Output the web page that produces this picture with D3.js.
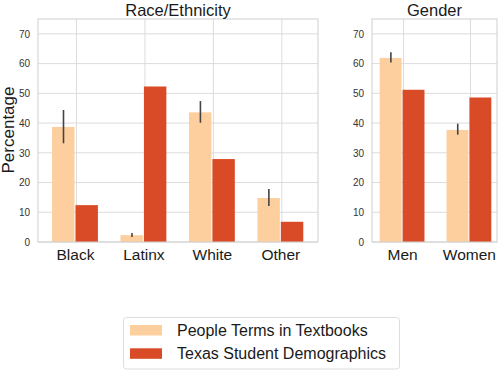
<!DOCTYPE html>
<html>
<head>
<meta charset="utf-8">
<script src="https://cdn.jsdelivr.net/npm/d3@7"></script>
<style>
  html, body { margin: 0; padding: 0; background: #fff; }
  svg { display: block; font-family: "Liberation Sans", Arial, sans-serif; }
</style>
</head>
<body>
<svg id="chart" width="500" height="372"></svg>
<script>
// ---- data ----
const raceCategories = ["Black", "Latinx", "White", "Other"];
const raceTextbook = [38.7, 2.3, 43.6, 14.8];
const raceTextbookLo = [33.2, 1.7, 40.1, 12.1];
const raceTextbookHi = [44.4, 3.0, 47.4, 17.8];
const raceTexas = [12.4, 52.3, 27.9, 6.8];

const genderCategories = ["Men", "Women"];
const genderTextbook = [61.9, 37.7];
const genderTextbookLo = [60.4, 36.1];
const genderTextbookHi = [63.8, 39.8];
const genderTexas = [51.2, 48.6];

const yTicks = [0, 10, 20, 30, 40, 50, 60, 70];
const seriesNames = ["People Terms in Textbooks", "Texas Student Demographics"];
const colors = ["#fdcf9f", "#d94b27"];

// ---- drawing ----
const svg = d3.select("#chart");
const y = d3.scaleLinear().domain([0, 75]).range([242, 19]);

function panel(opts) {
  const g = svg.append("g");
  const x = d3.scaleLinear().domain(opts.xdom).range([opts.x0, opts.x1]);
  const bw = x(0.335) - x(0);
  const idx = d3.range(opts.cats.length);

  // gridlines
  g.selectAll("line.hg").data(yTicks).join("line")
    .attr("x1", opts.x0).attr("x2", opts.x1)
    .attr("y1", d => y(d)).attr("y2", d => y(d))
    .attr("stroke", "#dcdcdc").attr("stroke-width", 1);
  g.selectAll("line.vg").data(idx).join("line")
    .attr("x1", d => x(d) + 1.5).attr("x2", d => x(d) + 1.5)
    .attr("y1", y(0)).attr("y2", y(75))
    .attr("stroke", "#dcdcdc").attr("stroke-width", 1);

  // bars
  g.selectAll("rect.a").data(idx).join("rect")
    .attr("x", d => x(d) - bw).attr("width", bw - 0.5)
    .attr("y", d => y(opts.a[d])).attr("height", d => y(0) - y(opts.a[d]))
    .attr("fill", colors[0]);
  g.selectAll("rect.b").data(idx).join("rect")
    .attr("x", d => x(d) + 0.5).attr("width", bw - 0.5)
    .attr("y", d => y(opts.b[d])).attr("height", d => y(0) - y(opts.b[d]))
    .attr("fill", colors[1]);

  // error bars
  g.selectAll("line.err").data(idx).join("line")
    .attr("x1", d => x(d) - bw / 2).attr("x2", d => x(d) - bw / 2)
    .attr("y1", d => y(opts.lo[d])).attr("y2", d => y(opts.hi[d]))
    .attr("stroke", "#444").attr("stroke-width", 1.6);

  // frame
  g.append("rect")
    .attr("x", opts.x0).attr("y", y(75))
    .attr("width", opts.x1 - opts.x0).attr("height", y(0) - y(75))
    .attr("fill", "none").attr("stroke", "#d0d0d0").attr("stroke-width", 1);

  // y tick labels
  const yAxis = d3.axisLeft(y).tickValues(yTicks).tickSize(0).tickPadding(8);
  const ya = g.append("g").attr("transform", `translate(${opts.x0},0)`).call(yAxis);
  ya.select(".domain").remove();
  ya.selectAll("text").attr("font-size", 10).attr("fill", "#333")
    .attr("font-family", "Liberation Sans, Arial, sans-serif");

  // x tick labels
  const xAxis = d3.axisBottom(x).tickValues(idx).tickFormat(i => opts.cats[i]).tickSize(0).tickPadding(7);
  const xa = g.append("g").attr("transform", `translate(0,${y(0)})`).call(xAxis);
  xa.select(".domain").remove();
  xa.selectAll("text").attr("font-size", 15.5).attr("fill", "#1a1a1a")
    .attr("font-family", "Liberation Sans, Arial, sans-serif");

  // title
  g.append("text")
    .attr("x", (opts.x0 + opts.x1) / 2).attr("y", 15.5)
    .attr("text-anchor", "middle").attr("font-size", 16.5).attr("fill", "#1a1a1a")
    .text(opts.title);
}

panel({
  cats: raceCategories, a: raceTextbook, b: raceTexas,
  lo: raceTextbookLo, hi: raceTextbookHi,
  x0: 38, x1: 318, xdom: [-0.54, 3.55], title: "Race/Ethnicity"
});
panel({
  cats: genderCategories, a: genderTextbook, b: genderTexas,
  lo: genderTextbookLo, hi: genderTextbookHi,
  x0: 372, x1: 497, xdom: [-0.45, 1.42], title: "Gender"
});

// y label
svg.append("text")
  .attr("transform", "translate(14,130) rotate(-90)")
  .attr("text-anchor", "middle").attr("font-size", 17).attr("fill", "#1a1a1a")
  .text("Percentage");

// legend
const lg = svg.append("g");
lg.append("rect")
  .attr("x", 123.5).attr("y", 317.5).attr("width", 276).attr("height", 51.5)
  .attr("rx", 3).attr("fill", "#fff").attr("stroke", "#dddddd").attr("stroke-width", 1);
seriesNames.forEach((name, i) => {
  lg.append("rect")
    .attr("x", 130).attr("y", 325 + i * 23.3).attr("width", 32).attr("height", 10.5)
    .attr("fill", colors[i]);
  lg.append("text")
    .attr("x", 177).attr("y", 336 + i * 23.3)
    .attr("font-size", 16).attr("fill", "#1a1a1a")
    .text(name);
});
</script>
</body>
</html>
